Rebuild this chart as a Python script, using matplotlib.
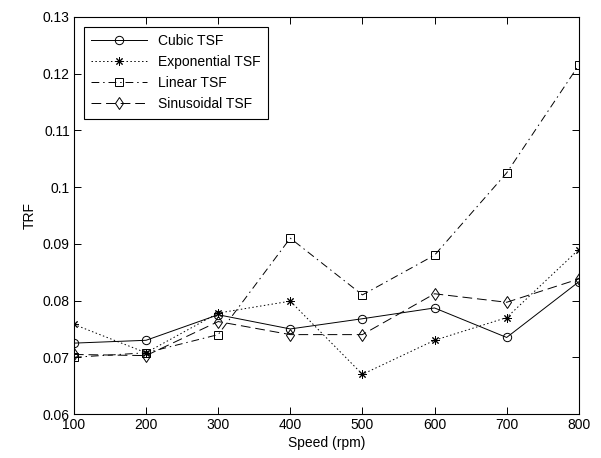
import matplotlib
matplotlib.use('Agg')
import matplotlib.pyplot as plt

plt.rcParams['font.family'] = ['Liberation Sans', 'DejaVu Sans']
plt.rcParams['font.size'] = 10

# data
speed = [100, 200, 300, 400, 500, 600, 700, 800]
cubic = [0.0725, 0.0730, 0.0775, 0.0750, 0.0768, 0.0787, 0.0735, 0.0833]
exponential = [0.0758, 0.0708, 0.0778, 0.0799, 0.0670, 0.0730, 0.0770, 0.0890]
linear = [0.0700, 0.0708, 0.0740, 0.0910, 0.0810, 0.0880, 0.1025, 0.1215]
sinusoidal = [0.0705, 0.0703, 0.0763, 0.0740, 0.0740, 0.0812, 0.0797, 0.0838]

fig = plt.figure(figsize=(6.01, 4.58), dpi=100)
ax = fig.add_axes([0.123, 0.096, 0.840, 0.867])

mk = dict(color='black', markerfacecolor='none', markeredgecolor='black',
          linewidth=0.7, markeredgewidth=0.7, markersize=6)
ax.plot(speed, cubic, '-', marker='o', label='Cubic TSF', **mk)
ax.plot(speed, exponential, linestyle=(0, (1.5, 2.5)), marker=(8, 2, 0),
        label='Exponential TSF', **mk)
ax.plot(speed, linear, linestyle=(0, (8, 4, 1.5, 4)), marker='s',
        label='Linear TSF', **mk)
ax.plot(speed, sinusoidal, linestyle=(0, (10, 5)), marker='d',
        label='Sinusoidal TSF', **mk)

ax.set_xlim(100, 800)
ax.set_ylim(0.06, 0.13)
ax.set_xticks(speed)
ax.set_yticks([0.06, 0.07, 0.08, 0.09, 0.1, 0.11, 0.12, 0.13])
ax.set_yticklabels(['0.06', '0.07', '0.08', '0.09', '0.1', '0.11', '0.12', '0.13'])
ax.tick_params(direction='in', top=True, right=True, length=5, width=0.7, pad=3)
for s in ax.spines.values():
    s.set_linewidth(0.8)

ax.set_xlabel('Speed (rpm)', labelpad=3)
ax.set_ylabel('TRF')

leg = ax.legend(loc='upper left', fancybox=False, edgecolor='black',
                framealpha=1, handlelength=4.0, borderaxespad=0.7,
                labelspacing=0.5, borderpad=0.55)
leg.get_frame().set_linewidth(0.8)

fig.savefig('out.png', dpi=100)
